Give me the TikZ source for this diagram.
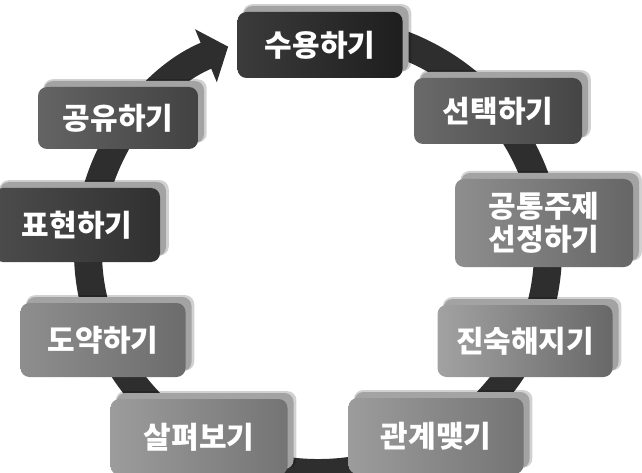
\documentclass[tikz,border=0pt]{standalone}
\usepackage{fontspec}
\newfontfamily\kr{Noto Sans CJK KR}
\usetikzlibrary{arrows.meta,shadows}
\definecolor{ringc}{HTML}{2E2E2E}
\definecolor{aL}{HTML}{3B3B3B}\definecolor{aR}{HTML}{1E1E1E}
\definecolor{bL}{HTML}{6A6A6A}\definecolor{bR}{HTML}{454545}
\definecolor{cL}{HTML}{8E8E8E}\definecolor{cR}{HTML}{666666}
\definecolor{dL}{HTML}{A2A2A2}\definecolor{dR}{HTML}{686868}
\definecolor{eL}{HTML}{9C9C9C}\definecolor{eR}{HTML}{747474}
\definecolor{fL}{HTML}{9C9C9C}\definecolor{fR}{HTML}{747474}
\definecolor{gL}{HTML}{8E8E8E}\definecolor{gR}{HTML}{6C6C6C}
\definecolor{hL}{HTML}{4C4C4C}\definecolor{hR}{HTML}{303030}
\definecolor{iL}{HTML}{646464}\definecolor{iR}{HTML}{424242}
\begin{document}
\begin{tikzpicture}[x=1pt,y=-1pt,
  stage/.style={rounded corners=9pt, text=white, align=center, inner sep=0pt,
    font=\kr\bfseries\fontsize{30}{33}\selectfont,
    drop shadow={shadow xshift=7pt, shadow yshift=7pt, shadow scale=1.02, fill=black, opacity=0.18},
    drop shadow={shadow xshift=6pt, shadow yshift=6pt, fill=black!36, opacity=1}},
  ring/.style={line width=28pt, draw=ringc, -{Triangle[width=56pt,length=24pt]}}
]
\useasboundingbox (0,0) rectangle (642,473);
\coordinate (ctr) at (318,251);
\draw[ring] (ctr) ++(80:230pt and 222pt) arc[start angle=80, end angle=-247, x radius=230pt, y radius=222pt];
\node[stage, minimum width=165pt, minimum height=66pt, left color=aL, right color=aR] (s1) at (320,45) {수용하기};
\node[stage, minimum width=168pt, minimum height=66pt, left color=bL, right color=bR] (s2) at (498,111) {선택하기};
\node[stage, minimum width=178pt, minimum height=88pt, left color=cL, right color=cR] (s3) at (544,223) {공통주제\\선정하기};
\node[stage, minimum width=175pt, minimum height=72pt, left color=dL, right color=dR] (s4) at (525,341) {진숙해지기};
\node[stage, minimum width=175pt, minimum height=76pt, left color=eL, right color=eR] (s5) at (436,436) {관계맺기};
\node[stage, minimum width=177pt, minimum height=76pt, left color=fL, right color=fR] (s6) at (199,437) {살펴보기};
\node[stage, minimum width=165pt, minimum height=74pt, left color=gL, right color=gR] (s7) at (103,340) {도약하기};
\node[stage, minimum width=166pt, minimum height=74pt, left color=hL, right color=hR] (s8) at (77,225) {표현하기};
\node[stage, minimum width=160pt, minimum height=62pt, left color=iL, right color=iR] (s9) at (118,118) {공유하기};
\end{tikzpicture}
\end{document}
